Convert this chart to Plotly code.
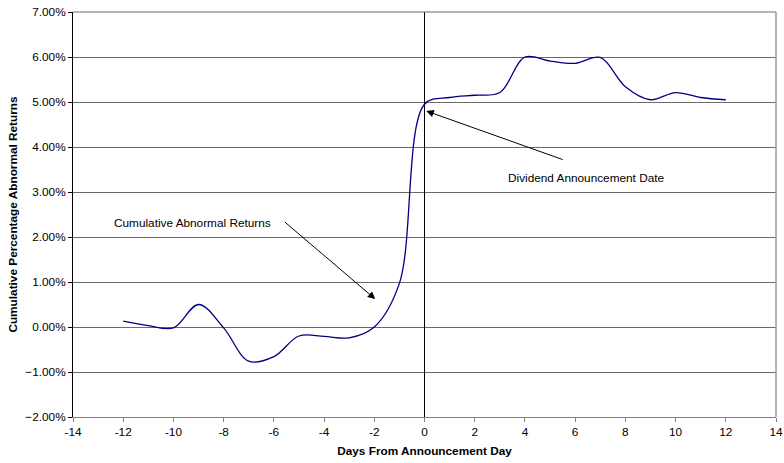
import plotly.graph_objects as go

days = list(range(-12, 13))
car = [0.13, 0.03, -0.02, 0.50, -0.02, -0.76, -0.66, -0.20, -0.21, -0.24, 0.00, 0.97,
       4.95, 5.10, 5.15, 5.21, 6.00, 5.91, 5.86, 5.99, 5.34, 5.05, 5.21, 5.10, 5.05]
car_frac = [v / 100 for v in car]

x_ticks = list(range(-14, 15, 2))
y_ticks = [v / 100 for v in range(-2, 8)]

FONT = "Liberation Sans, Arial, sans-serif"
FS = 11.8

fig = go.Figure()
fig.add_trace(go.Scatter(
    x=days, y=car_frac, mode="lines",
    line=dict(color="#000080", width=1.3, shape="spline", smoothing=1.0),
    showlegend=False, hoverinfo="skip",
))

fig.update_layout(
    width=784, height=463,
    margin=dict(l=72.5, r=8, t=12, b=46),
    paper_bgcolor="white", plot_bgcolor="white",
    font=dict(family=FONT, size=FS, color="black"),
    xaxis=dict(
        range=[-14, 14], tickvals=x_ticks, ticktext=[str(t) for t in x_ticks],
        automargin=False, ticklabeloverflow="allow",
        showgrid=False, zeroline=True, zerolinecolor="black", zerolinewidth=1,
        showline=True, linecolor="#808080", linewidth=1,
        ticks="outside", ticklen=4, tickcolor="#808080",
        tickfont=dict(size=FS),
        title=dict(text="<b>Days From Announcement Day</b>", font=dict(size=FS), standoff=8),
    ),
    yaxis=dict(
        range=[-0.02, 0.07], tickvals=y_ticks, tickformat=".2%",
        automargin=False, ticklabeloverflow="allow",
        showgrid=True, gridcolor="#6a6a6a", gridwidth=1,
        zeroline=False,
        showline=True, linecolor="black", linewidth=1,
        ticks="outside", ticklen=4, tickcolor="black",
        tickfont=dict(size=FS),
        title=dict(text="<b>Cumulative Percentage Abnormal Returns</b>", font=dict(size=FS), standoff=5),
    ),
)

# top border (7% gridline) and right border
fig.add_shape(type="line", xref="paper", yref="paper", x0=0, x1=1, y0=1, y1=1,
              line=dict(color="#6a6a6a", width=1))
fig.add_shape(type="line", xref="paper", yref="paper", x0=1, x1=1, y0=0, y1=1,
              line=dict(color="#9a9a9a", width=1.5))

fig.add_annotation(x=-9.24, y=0.0231, text="Cumulative Abnormal Returns", showarrow=False,
                   font=dict(size=FS, color="black"))
fig.add_annotation(x=-1.96, y=0.0062, ax=-5.62, ay=0.0236, axref="x", ayref="y",
                   text="", showarrow=True, arrowhead=2, arrowsize=1.5, arrowwidth=1,
                   arrowcolor="black")
fig.add_annotation(x=6.44, y=0.0331, text="Dividend Announcement Date", showarrow=False,
                   font=dict(size=FS, color="black"))
fig.add_annotation(x=0.07, y=0.0480, ax=5.56, ay=0.0371, axref="x", ayref="y",
                   text="", showarrow=True, arrowhead=2, arrowsize=1.5, arrowwidth=1,
                   arrowcolor="black")

# remove the default page margin so the 784x463 figure fills the window exactly
fig.write_html(
    "out.html",
    config={"displayModeBar": False},
    post_script="document.body.style.margin='0';document.documentElement.style.overflow='hidden';",
)
